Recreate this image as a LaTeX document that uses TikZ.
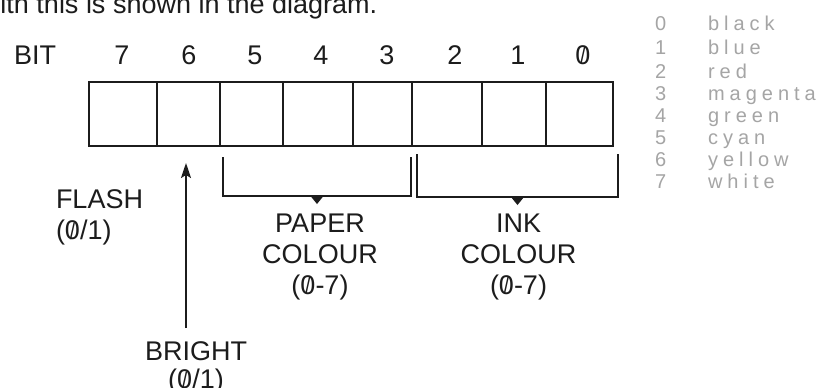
\documentclass[tikz,border=0pt]{standalone}
\usepackage{fontspec}
\setmainfont{Liberation Sans}
\newfontfamily\handfont[LetterSpace=25]{Liberation Sans}
\usetikzlibrary{arrows.meta,calc,positioning}
\definecolor{fg}{RGB}{28,28,28}
\definecolor{mu}{RGB}{165,165,165}
\definecolor{bg}{RGB}{255,255,255}
\newcommand{\zr}{\ooalign{0\cr\hidewidth\raisebox{0.05ex}{\scalebox{0.7}[0.85]{/}}\hidewidth\cr}}
\tikzset{
  every picture/.style={fg, line width=1pt, line join=miter,
    >={Stealth[length=7.5pt,width=5pt,inset=1.5pt]}},
  every node/.style={font=\fontsize{13.5}{15.5}\selectfont, inner sep=0pt},
  % Registerzellen
  cell/.style={draw, minimum height=32pt, outer sep=0pt},
  bitnum/.style={anchor=base},
  % Beschriftungen unter dem Register
  lbl/.style={align=center, anchor=north},
  brace/.style={line width=0.9pt},
  % Notizen am Rand (Bleistift)
  note/.style={mu, font=\handfont\fontsize{10}{12}\selectfont, anchor=base west},
}
\begin{document}
\begin{tikzpicture}[x=0.5pt, y=-0.5pt]
  \useasboundingbox (0,0) rectangle (836,387);
  \clip (0,0) rectangle (836,387);
  \fill[bg] (0,0) rectangle (836,387);
  % Textzeile oben (angeschnitten)
  \node[anchor=base west] (intro) at (-20,13) {with this is shown in the diagram.};
  % Bitnummern und Zellen
  \node[anchor=base west] (bit) at (13,64) {BIT};
  \foreach \b/\l/\r in {7/89/157, 6/157/220, 5/220/283, 4/283/353,
      3/353/412, 2/412/482, 1/482/546, 0/546/613}
    \node[cell, minimum width={(\r-\l)*0.5pt}] (c\b) at ({(\l+\r)/2},114) {};
  \foreach \b/\x/\t in {7/122/7, 6/189/6, 5/255/5, 4/321/4, 3/387/3,
      2/455/2, 1/518/1, 0/583/\zr}
    \node[bitnum] (n\b) at (\x,64) {\t};
  % Klammern: PAPER (Bit 5-3), INK (Bit 2-0)
  \draw[brace] (223,157) |- (411,196) coordinate[pos=0.75] (pm) -- (411,157);
  \draw[brace] (417,154) |- (618,197) coordinate[pos=0.75] (im) -- (618,154);
  \foreach \m in {pm,im}
    \fill (\m) ++(-6.5,0) -- ++(13,0) -- ++(-6.5,8) -- cycle;
  \node[lbl, below=8.5pt of pm, xshift=1.5pt] (paper) {PAPER\\COLOUR\\(\zr-7)};
  \node[lbl, below=8pt of im, xshift=0.5pt] (ink) {INK\\COLOUR\\(\zr-7)};
  % FLASH und BRIGHT
  \node[lbl, anchor=north west, align=left] (flash) at (55,189) {FLASH\\(\zr/1)};
  \node[lbl] (bright) at (196,341) {BRIGHT\\[-1.5pt](\zr/1)};
  \coordinate (atip) at ([xshift=-1.25pt,yshift=-8.5pt]c6.south);
  \coordinate (afoot) at ([yshift=6.5pt]bright.north);
  \draw[->, line width=0.75pt] (afoot -| atip) -- (atip);
  % Farbliste, handschriftlich
  \foreach \d/\w/\y in {0/black/30, 1/blue/54, 2/red/78, 3/magenta/100,
      4/green/122, 5/cyan/144, 6/yellow/166, 7/white/188} {
    \node[note] (d\d) at (654,\y) {\d};
    \node[note] (w\d) at (707,\y) {\w};
  }
\end{tikzpicture}
\end{document}
